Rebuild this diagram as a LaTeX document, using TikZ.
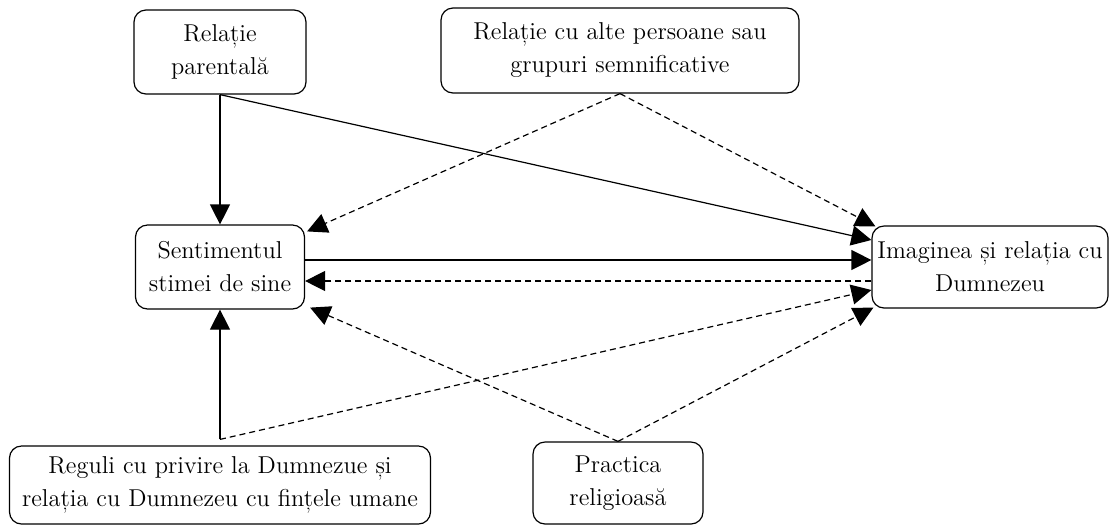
\documentclass[tikz,border=0pt]{standalone}
\usepackage{fontspec}
\usetikzlibrary{arrows.meta, calc}

\begin{document}
\begin{tikzpicture}[x=0.5pt, y=-0.5pt,
    casuta/.style={draw, rounded corners=6pt, align=center, inner sep=0pt,
      line width=0.6pt, font=\fontsize{12.2}{16.5}\selectfont},
    sageata/.style={-{Triangle[length=10pt,width=10pt]}, line width=0.6pt},
    punctat/.style={sageata, dash pattern=on 3pt off 2pt}]
    \useasboundingbox (0,0) rectangle (1112,526);

    % casutele
    \node[casuta, minimum width=86pt,  minimum height=42pt] (parental)   at (220,52)  {Relație\\parentală};
    \node[casuta, minimum width=179pt, minimum height=42.5pt] (grupuri)  at (620,50.5) {Relație cu alte persoane sau\\grupuri semnificative};
    \node[casuta, minimum width=84.5pt, minimum height=42pt] (sentiment) at (220,267) {Sentimentul\\stimei de sine};
    \node[casuta, minimum width=118pt, minimum height=41pt] (imagine)    at (990,267) {Imaginea și relația cu\\Dumnezeu};
    \node[casuta, minimum width=210.5pt, minimum height=39pt] (reguli)   at (220,485) {Reguli cu privire la Dumnezue și\\relația cu Dumnezeu cu fințele umane};
    \node[casuta, minimum width=85pt,  minimum height=41pt] (practica)   at (618,483) {Practica\\religioasă};

    % capetele sagetilor
    \coordinate (img-a) at ($(imagine.north west)+(4,1)$);
    \coordinate (img-b) at ($(imagine.west)+(0,-27)$);
    \coordinate (img-c) at ($(imagine.west)+(0,-7)$);
    \coordinate (img-d) at ($(imagine.west)+(0,14)$);
    \coordinate (img-e) at ($(imagine.west)+(0,23)$);
    \coordinate (img-f) at ($(imagine.south west)+(2,-1)$);
    \coordinate (sent-a) at ($(sentiment.north east)+(2,7)$);
    \coordinate (sent-c) at ($(sentiment.east)+(0,-7)$);
    \coordinate (sent-d) at ($(sentiment.east)+(0,14)$);
    \coordinate (sent-f) at ($(sentiment.south east)+(5,-2)$);
    \coordinate (reg-sus) at ($(reguli.north)+(0,-6)$);

    \draw[sageata] (parental.south) -- (sentiment.north);
    \draw[sageata] (parental.south) -- (img-b);
    \draw[punctat] (grupuri.south) -- (sent-a);
    \draw[punctat] (grupuri.south) -- (img-a);
    \draw[sageata] (sent-c) -- (img-c);
    \draw[punctat] (img-d) -- (sent-d);
    \draw[sageata] (reg-sus) -- (sentiment.south);
    \draw[punctat] (reg-sus) -- (img-e);
    \draw[punctat] (practica.north) -- (sent-f);
    \draw[punctat] (practica.north) -- (img-f);
\end{tikzpicture}
\end{document}
